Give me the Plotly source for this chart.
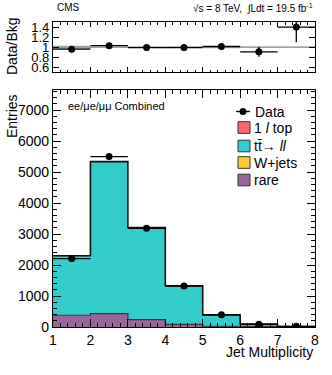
import plotly.graph_objects as go
import numpy as np

edges = [1, 2, 3, 4, 5, 6, 7, 8]
centers = [1.5, 2.5, 3.5, 4.5, 5.5, 6.5, 7.5]
rare = [380, 435, 240, 88, 25, 10, 3]
wjets = [5, 3, 2, 1, 0, 0, 0]
tt_ll = [1905, 4887, 2958, 1236, 363, 86, 12]
one_l_top = [10, 15, 10, 5, 2, 1, 0]
data = [2210, 5500, 3185, 1320, 395, 88, 21]
ratio_err = [0.02, 0.015, 0.018, 0.03, 0.05, 0.1, 0.3]
mc_unc = [0.03, 0.01, 0.01, 0.012, 0.02, 0.01, 0.01]

C_RARE = "#9a6699"
C_W = "#ffcc33"
C_TT = "#33cccc"
C_1L = "#ff6666"

c1 = np.array(rare, float)
c2 = c1 + np.array(wjets)
c3 = c2 + np.array(tt_ll)
c4 = c3 + np.array(one_l_top)
total = c4
ratio = np.array(data) / total
data_err = np.sqrt(np.array(data, float))

def step(v):
    return list(v) + [v[-1]]

fig = go.Figure()
layers = [(c1, C_RARE, "tozeroy"),
          (c2, C_W, "tonexty"),
          (c3, C_TT, "tonexty"),
          (c4, C_1L, "tonexty")]
for vals, fc, fill in layers:
    fig.add_trace(go.Scatter(x=edges, y=step(vals), mode="lines",
                             line=dict(shape="hv", color="rgba(0,0,0,0)", width=0),
                             fill=fill, fillcolor=fc, xaxis="x", yaxis="y",
                             showlegend=False, hoverinfo="skip"))
fig.add_trace(go.Scatter(x=edges, y=step(c4), mode="lines",
                         line=dict(shape="hv", color="#111111", width=1.6),
                         xaxis="x", yaxis="y", showlegend=False))
fig.add_trace(go.Scatter(x=edges, y=step(c1), mode="lines",
                         line=dict(shape="hv", color="#333333", width=1.2),
                         xaxis="x", yaxis="y", showlegend=False))

fig.add_trace(go.Scatter(x=centers, y=data, mode="markers",
                         marker=dict(color="black", size=7),
                         error_x=dict(type="constant", value=0.5, color="black", width=0, thickness=1.3),
                         error_y=dict(type="data", array=data_err, color="black", width=0, thickness=1.3),
                         xaxis="x", yaxis="y", showlegend=False))

# ratio panel: MC uncertainty band + unity line
lo = 1 - np.array(mc_unc)
hi = 1 + np.array(mc_unc)
fig.add_trace(go.Scatter(x=edges, y=step(lo), mode="lines", line=dict(shape="hv", width=0, color="rgba(0,0,0,0)"),
                         xaxis="x2", yaxis="y2", showlegend=False, hoverinfo="skip"))
fig.add_trace(go.Scatter(x=edges, y=step(hi), mode="lines", line=dict(shape="hv", width=0, color="rgba(0,0,0,0)"),
                         fill="tonexty", fillcolor="#a8a8a8",
                         xaxis="x2", yaxis="y2", showlegend=False, hoverinfo="skip"))
fig.add_trace(go.Scatter(x=[1, 8], y=[1, 1], mode="lines",
                         line=dict(color="#999999", width=1.2),
                         xaxis="x2", yaxis="y2", showlegend=False))
fig.add_trace(go.Scatter(x=centers, y=ratio, mode="markers",
                         marker=dict(color="black", size=7),
                         error_x=dict(type="constant", value=0.5, color="black", width=0, thickness=1.3),
                         error_y=dict(type="data", array=ratio_err, color="black", width=0, thickness=1.3),
                         xaxis="x2", yaxis="y2", showlegend=False))

font = "Liberation Sans, Arial, Helvetica, sans-serif"
axcommon = dict(showline=True, linecolor="black", linewidth=1.3, mirror="allticks",
                ticks="inside", tickcolor="black", showgrid=False, zeroline=False)

fig.update_layout(
    width=332, height=375,
    margin=dict(l=53, r=17, t=22, b=48),
    plot_bgcolor="white", paper_bgcolor="white",
    font=dict(family=font, size=14, color="black"),
    xaxis=dict(domain=[0, 1], range=[1, 8], dtick=1, tick0=1, ticklen=8,
               minor=dict(ticks="inside", ticklen=4, dtick=0.2, tickcolor="black"),
               anchor="y", tickfont=dict(size=14), **axcommon),
    yaxis=dict(domain=[0, 0.777], range=[0, 7650], dtick=1000, ticklen=8,
               minor=dict(ticks="inside", ticklen=4, dtick=200, tickcolor="black"),
               anchor="x", tickfont=dict(size=14), **axcommon),
    xaxis2=dict(domain=[0, 1], range=[1, 8], dtick=1, tick0=1, ticklen=5,
                minor=dict(ticks="inside", ticklen=2.5, dtick=0.2, tickcolor="black"),
                anchor="y2", showticklabels=False, **axcommon),
    yaxis2=dict(domain=[0.835, 1], range=[0.5, 1.5], tickvals=[0.6, 0.8, 1, 1.2, 1.4],
                ticktext=["0.6", "0.8", "1", "1.2", "1.4"], ticklen=6,
                anchor="x2", tickfont=dict(size=13), **axcommon),
)

def px(x):
    return (x - 53) / 262

def py(y):
    return (327 - y) / 305

ann = []
ann.append(dict(x=px(55), y=py(8), text="CMS", xanchor="left", yanchor="middle",
                font=dict(size=10)))
ann.append(dict(x=1.0, y=py(8), text="√s = 8 TeV,  ∫Ldt = 19.5 fb<sup>-1</sup>",
                xanchor="right", yanchor="middle", font=dict(size=10)))
ann.append(dict(x=px(66), y=py(106), text="ee/μe/μμ Combined", xanchor="left",
                yanchor="middle", font=dict(size=11)))
ann.append(dict(x=px(12), y=py(92), text="Entries", textangle=-90, xanchor="center",
                yanchor="top", font=dict(size=14)))
ann.append(dict(x=px(12), y=py(46), text="Data/Bkg", textangle=-90, xanchor="center",
                yanchor="middle", font=dict(size=14)))
ann.append(dict(x=1.0, y=py(352), text="Jet Multiplicity", xanchor="right",
                yanchor="middle", font=dict(size=14)))

shapes = []
leg_x0, leg_x1 = 238, 250
shapes.append(dict(type="line", xref="paper", yref="paper", x0=px(236), x1=px(250),
                   y0=py(111.5), y1=py(111.5), line=dict(color="black", width=1.3)))
shapes.append(dict(type="circle", xref="paper", yref="paper", x0=px(239.5), x1=px(246.5),
                   y0=py(115), y1=py(108), fillcolor="black", line=dict(color="black", width=0)))
ann.append(dict(x=px(253), y=py(111.5), text="Data", xanchor="left", yanchor="middle",
                font=dict(size=14)))
leg = [(C_1L, 127.5, "1 <i>l</i> top"),
       (C_TT, 146, "tt̄→ <i>ll</i>"),
       (C_W, 162.5, "W+jets"),
       (C_RARE, 180, "rare")]
for col, yc, txt in leg:
    shapes.append(dict(type="rect", xref="paper", yref="paper", x0=px(leg_x0), x1=px(leg_x1),
                       y0=py(yc - 5.8), y1=py(yc + 5.8), fillcolor=col,
                       line=dict(color="#333333", width=1)))
    ann.append(dict(x=px(252), y=py(yc), text=txt, xanchor="left", yanchor="middle",
                    font=dict(size=14)))
for a in ann:
    a.update(xref="paper", yref="paper", showarrow=False)

fig.update_layout(annotations=ann, shapes=shapes)
fig.write_html("out.html", config={"displayModeBar": False},
               post_script="document.body.style.margin='0';document.body.style.overflow='hidden';")
